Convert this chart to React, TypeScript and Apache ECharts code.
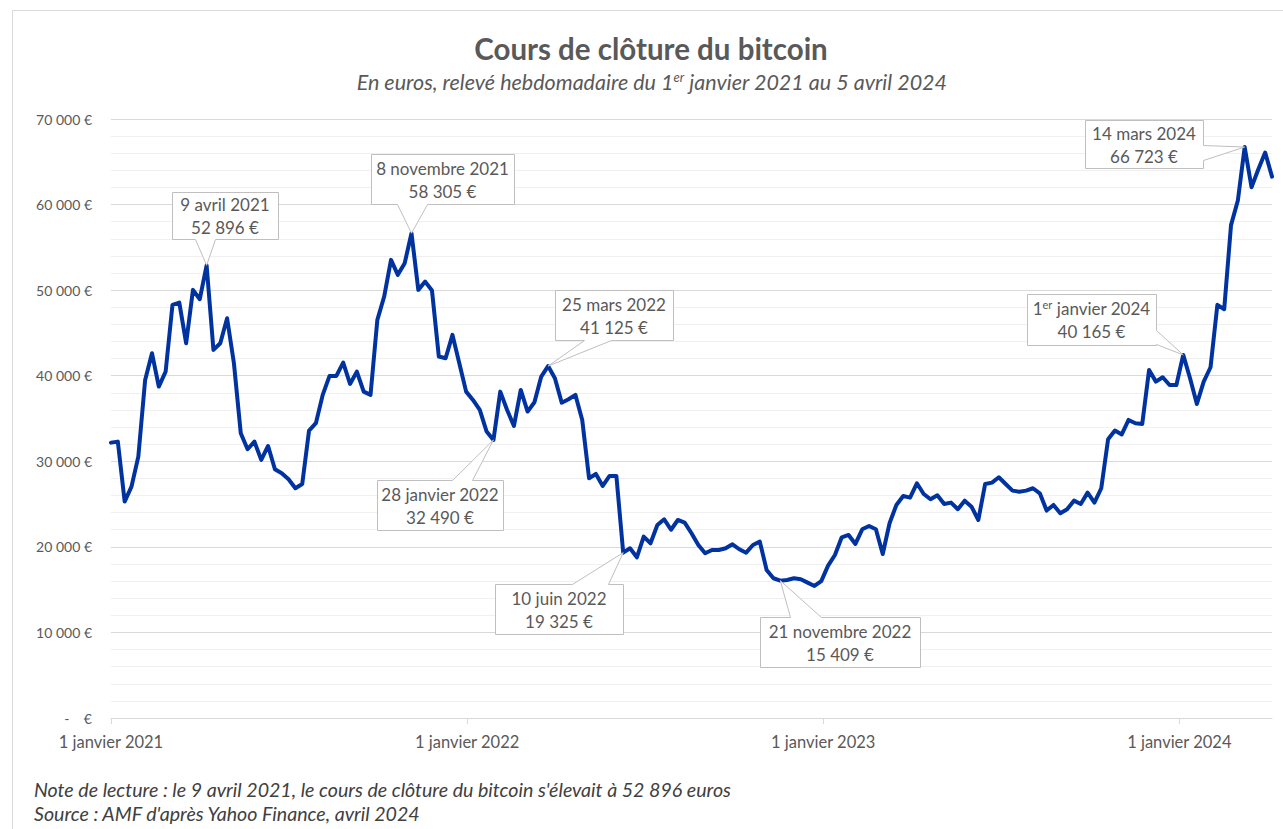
import React, { useEffect, useRef } from 'react';
import * as echarts from 'echarts';

// ---------- data ----------
const START_DATE = new Date(2021, 0, 1).getTime();
const END_DATE = new Date(2024, 3, 5).getTime();
const WEEK_MS = 7 * 24 * 3600 * 1000;

// weekly closing prices in euros, from 1 Jan 2021 to 5 Apr 2024
const weeklyCloses: number[] = [
  32180, 32300, 25290, 27040, 30540, 39510, 42630, 38730, 40480, 48280,
  48540, 43800, 50030, 48940, 52896, 43020, 43800, 46720, 41460, 33280,
  31410, 32300, 30160, 31790, 29070, 28600, 27900, 26850, 27350, 33590,
  34450, 37760, 39980, 39980, 41530, 39040, 40480, 38140, 37760, 46520,
  49250, 53540, 51790, 53150, 56650, 50030, 51000, 49950, 42240, 42040,
  44770, 41460, 38140, 37170, 36000, 33470, 32490, 38140, 36000, 34130,
  38340, 35810, 36900, 39900, 41125, 39710, 36850, 37250, 37760, 34830,
  28020, 28520, 27120, 28290, 28290, 19325, 19830, 18780, 21190, 20420,
  22560, 23220, 22000, 23140, 22830, 21590, 20220, 19250, 19640, 19640,
  19830, 20300, 19720, 19320, 20220, 20610, 17300, 16330, 16050, 16130,
  16330, 16210, 15820, 15430, 16000, 17800, 19050, 21120, 21390, 20340,
  22050, 22440, 22050, 19170, 22760, 24900, 25950, 25750, 27430, 26180,
  25560, 26030, 25010, 25170, 24400, 25400, 24700, 23140, 27350, 27510,
  28130, 27350, 26570, 26450, 26570, 26850, 26260, 24240, 24900, 23920,
  24400, 25400, 25010, 26340, 25170, 26850, 32570, 33590, 33140, 34830,
  34450, 34370, 40680, 39310, 39820, 38920, 38920, 42430, 39710, 36700,
  39310, 40990, 48280, 47770, 57600, 60470, 66723, 62020, 64130, 66080,
  63270,
];

const yearTicks: number[] = [2021, 2022, 2023, 2024];
const Y_MIN = 0;
const Y_MAX = 70000;
const Y_STEP = 10000;

// annotations (week index of the pointed data point, texts)
const annotationIndex: number[] = [14, 44, 56, 64, 75, 98, 157, 166];
const annotationDate: string[] = [
  '9 avril 2021',
  '8 novembre 2021',
  '28 janvier 2022',
  '25 mars 2022',
  '10 juin 2022',
  '21 novembre 2022',
  '1{sup|er} janvier 2024',
  '14 mars 2024',
];
const annotationValue: string[] = [
  '52 896 €',
  '58 305 €',
  '32 490 €',
  '41 125 €',
  '19 325 €',
  '15 409 €',
  '40 165 €',
  '66 723 €',
];

// callout box layout, relative to the pointed data point
type Side = 'top' | 'right' | 'bottom' | 'left';
const calloutLayout: { dx: number; dy: number; w: number; h: number; side: Side; b0: number; b1: number }[] = [
  { dx: -35, dy: -73, w: 106, h: 47, side: 'bottom', b0: 23, b1: 43 },
  { dx: -40, dy: -79, w: 143, h: 50, side: 'bottom', b0: 26, b1: 56 },
  { dx: -116, dy: 40, w: 126, h: 50, side: 'top', b0: 75, b1: 95 },
  { dx: 7, dy: -76, w: 118, h: 50, side: 'bottom', b0: 29, b1: 56 },
  { dx: -128, dy: 31, w: 128, h: 50, side: 'top', b0: 77, b1: 113 },
  { dx: -20, dy: 36, w: 160, h: 50, side: 'top', b0: 30, b1: 61 },
  { dx: -156, dy: -61, w: 129, h: 51, side: 'right', b0: 36, b1: 50 },
  { dx: -160, dy: -27, w: 118, h: 48, side: 'right', b0: 25, b1: 40 },
];

const FONT = 'Lato, "Noto Sans", sans-serif';
const GREY = '#595959';

function fmtThousands(v: number): string {
  return String(Math.round(v)).replace(/\B(?=(\d{3})+(?!\d))/g, ' ');
}

function calloutPoints(ax: number, ay: number, L: typeof calloutLayout[number]): number[][] {
  const x0 = Math.round(ax + L.dx) + 0.5;
  const y0 = Math.round(ay + L.dy) + 0.5;
  const x1 = x0 + L.w;
  const y1 = y0 + L.h;
  const p: number[][] = [[x0, y0]];
  if (L.side === 'top') p.push([x0 + L.b0, y0], [ax, ay], [x0 + L.b1, y0]);
  p.push([x1, y0]);
  if (L.side === 'right') p.push([x1, y0 + L.b0], [ax, ay], [x1, y0 + L.b1]);
  p.push([x1, y1]);
  if (L.side === 'bottom') p.push([x0 + L.b1, y1], [ax, ay], [x0 + L.b0, y1]);
  p.push([x0, y1]);
  if (L.side === 'left') p.push([x0, y0 + L.b1], [ax, ay], [x0, y0 + L.b0]);
  return p;
}

export default function App() {
  const ref = useRef<HTMLDivElement>(null);

  useEffect(() => {
    if (!ref.current) return;
    const chart = echarts.init(ref.current, undefined, { renderer: 'svg' });

    const seriesData = weeklyCloses.map((v, i) => [START_DATE + i * WEEK_MS, v]);
    const yearValues = yearTicks.map((y) => new Date(y, 0, 1).getTime());

    chart.setOption({
      animation: false,
      backgroundColor: '#ffffff',
      grid: { left: 111, right: 11, top: 119, bottom: 111, containLabel: false },
      xAxis: {
        type: 'value',
        min: START_DATE,
        max: END_DATE,
        axisLine: { show: true, lineStyle: { color: '#d9d9d9', width: 1 } },
        axisTick: { show: true, customValues: yearValues, length: 6, lineStyle: { color: '#d9d9d9' } },
        axisLabel: {
          customValues: yearValues,
          formatter: (v: number) => '1 janvier ' + new Date(v).getFullYear(),
          color: GREY,
          fontFamily: FONT,
          fontSize: 16.5,
          margin: 15,
          hideOverlap: false,
          showMinLabel: true,
          showMaxLabel: true,
        },
        splitLine: { show: false },
      },
      yAxis: {
        type: 'value',
        min: Y_MIN,
        max: Y_MAX,
        interval: Y_STEP,
        axisLine: { show: false },
        axisTick: { show: false },
        axisLabel: {
          formatter: (v: number) => (v === 0 ? '-    €' : fmtThousands(v) + ' €'),
          color: GREY,
          fontFamily: FONT,
          fontSize: 14,
          margin: 19,
        },
        splitLine: { show: true, lineStyle: { color: '#d9d9d9', width: 1 } },
        minorTick: { show: false, splitNumber: 5 },
        minorSplitLine: { show: true, lineStyle: { color: '#f0f0f0', width: 1 } },
      },
      series: [
        {
          type: 'line',
          data: seriesData,
          showSymbol: false,
          symbol: 'none',
          lineStyle: { color: '#0033A0', width: 4, join: 'round', cap: 'round' },
          itemStyle: { color: '#0033A0' },
          z: 5,
        },
      ],
    });

    const graphics: any[] = [];
    graphics.push({
      type: 'rect',
      shape: { x: 12.5, y: 10.5, width: 1300, height: 900 },
      style: { fill: 'none', stroke: '#d9d9d9', lineWidth: 1 },
      silent: true,
      z: 0,
    });
    graphics.push({
      type: 'text',
      style: {
        text: 'Cours de clôture du bitcoin',
        x: 651,
        y: 48,
        textAlign: 'center',
        textVerticalAlign: 'middle',
        fill: GREY,
        fontFamily: FONT,
        fontWeight: 'bold',
        fontSize: 29.5,
      },
      z: 50,
    });
    graphics.push({
      type: 'text',
      style: {
        text: '{a|En euros, relevé hebdomadaire du 1}{s|er}{a| janvier 2021 au 5 avril 2024}',
        x: 652,
        y: 82,
        textAlign: 'center',
        textVerticalAlign: 'middle',
        rich: {
          a: { fill: GREY, fontFamily: FONT, fontStyle: 'italic', fontSize: 21.5 },
          s: { fill: GREY, fontFamily: FONT, fontStyle: 'italic', fontSize: 13, padding: [0, 0, 10, 0] },
        },
      },
      z: 50,
    });
    graphics.push({
      type: 'text',
      style: {
        text: "Note de lecture : le 9 avril 2021, le cours de clôture du bitcoin s'élevait à 52 896 euros",
        x: 34,
        y: 789,
        textAlign: 'left',
        textVerticalAlign: 'middle',
        fill: '#404040',
        fontFamily: FONT,
        fontStyle: 'italic',
        fontSize: 19.6,
      },
      z: 50,
    });
    graphics.push({
      type: 'text',
      style: {
        text: "Source : AMF d'après Yahoo Finance, avril 2024",
        x: 34,
        y: 813,
        textAlign: 'left',
        textVerticalAlign: 'middle',
        fill: '#404040',
        fontFamily: FONT,
        fontStyle: 'italic',
        fontSize: 19.6,
      },
      z: 50,
    });

    annotationIndex.forEach((idx, k) => {
      const pt = chart.convertToPixel({ seriesIndex: 0 }, seriesData[idx] as any) as number[];
      const L = calloutLayout[k];
      const pts = calloutPoints(pt[0], pt[1], L);
      const bx = Math.round(pt[0] + L.dx);
      const by = Math.round(pt[1] + L.dy);
      graphics.push({
        type: 'polygon',
        shape: { points: pts },
        style: { fill: '#ffffff', stroke: '#bfbfbf', lineWidth: 1 },
        z: 100,
      });
      graphics.push({
        type: 'text',
        style: {
          text: '{m|' + annotationDate[k].replace('{sup|er}', '}{s|er}{m|') + '}',
          x: bx + L.w / 2,
          y: by + L.h / 2 - 11,
          textAlign: 'center',
          textVerticalAlign: 'middle',
          rich: {
            m: { fill: GREY, fontFamily: FONT, fontSize: 17 },
            s: { fill: GREY, fontFamily: FONT, fontSize: 11, padding: [0, 0, 8, 0] },
          },
        },
        z: 101,
      });
      graphics.push({
        type: 'text',
        style: {
          text: annotationValue[k],
          x: bx + L.w / 2,
          y: by + L.h / 2 + 12,
          textAlign: 'center',
          textVerticalAlign: 'middle',
          fill: GREY,
          fontFamily: FONT,
          fontSize: 17,
        },
        z: 101,
      });
    });

    chart.setOption({ graphic: graphics });

    return () => {
      chart.dispose();
    };
  }, []);

  return (
    <div
      ref={ref}
      style={{ position: 'fixed', left: 0, top: 0, width: 1283, height: 829, background: '#fff' }}
    />
  );
}
